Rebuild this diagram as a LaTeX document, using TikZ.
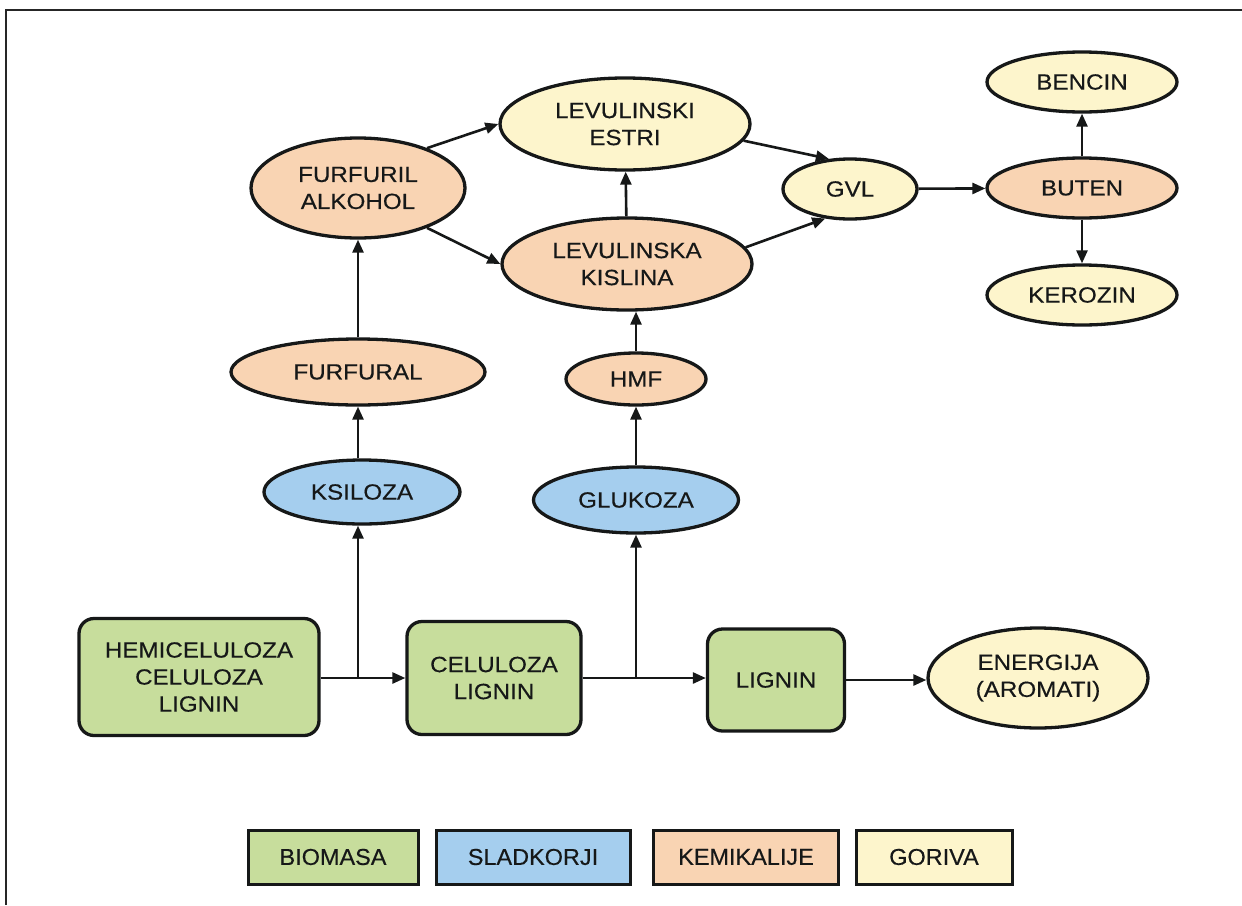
\documentclass[tikz,border=0pt]{standalone}
\usepackage{fontspec}
\setmainfont[FakeStretch=1.1,FakeBold=0.4]{Liberation Sans}
\newfontfamily\legfont[FakeStretch=1.02,FakeBold=0.4]{Liberation Sans}
\usetikzlibrary{shapes.geometric,arrows.meta}
\definecolor{cgreen}{HTML}{C7DD9C}
\definecolor{cblue}{HTML}{A5CEEE}
\definecolor{corange}{HTML}{F9D4B3}
\definecolor{cyellow}{HTML}{FDF5CC}
\definecolor{cline}{HTML}{161818}
\tikzset{
  base/.style={draw=cline, line width=3.3pt, align=center, inner sep=0pt, text=cline,
    font=\fontsize{22}{27}\selectfont},
  ell/.style={base, ellipse},
  boxn/.style={base, rectangle, rounded corners=15pt, fill=cgreen},
  legbox/.style={base, rectangle, minimum width=#1, minimum height=54pt, line width=3pt,
    font=\legfont\fontsize{23}{26}\selectfont},
  arr/.style={draw=cline, line width=2.6pt, -{Triangle[length=13pt,width=11pt]}},
}
\begin{document}
\begin{tikzpicture}[x=1pt,y=-1pt]
\useasboundingbox (0,0) rectangle (1242,905);
\fill[white] (0,0) rectangle (1242,905);
\draw[line width=2.2pt, black!85] (6,905) -- (6,10) -- (1242,10);

% top part
\node[ell, fill=corange, minimum width=214pt, minimum height=100pt] (fa) at (358,188) {FURFURIL\\ALKOHOL};
\node[ell, fill=cyellow, minimum width=250pt, minimum height=92pt] (le) at (625,124) {LEVULINSKI\\ESTRI};
\node[ell, fill=corange, minimum width=250pt, minimum height=92pt] (lk) at (627,264) {LEVULINSKA\\KISLINA};
\node[ell, fill=cyellow, minimum width=134pt, minimum height=60pt] (gvl) at (850,189) {GVL};
\node[ell, fill=corange, minimum width=190pt, minimum height=60pt] (bu) at (1082,188) {BUTEN};
\node[ell, fill=cyellow, minimum width=190pt, minimum height=60pt] (be) at (1082,82) {BENCIN};
\node[ell, fill=cyellow, minimum width=190pt, minimum height=60pt] (ke) at (1082,295) {KEROZIN};

% middle
\node[ell, fill=corange, minimum width=254pt, minimum height=66pt] (ff) at (358,372) {FURFURAL};
\node[ell, fill=corange, minimum width=140pt, minimum height=52pt] (hmf) at (636,379) {HMF};
\node[ell, fill=cblue, minimum width=196pt, minimum height=64pt] (ks) at (362,492) {KSILOZA};
\node[ell, fill=cblue, minimum width=205pt, minimum height=66pt] (gl) at (636,500) {GLUKOZA};

% bottom
\node[boxn, minimum width=240pt, minimum height=117pt] (hc) at (199,677) {HEMICELULOZA\\CELULOZA\\LIGNIN};
\node[boxn, minimum width=174pt, minimum height=113pt] (cl) at (494,678) {CELULOZA\\LIGNIN};
\node[boxn, minimum width=137pt, minimum height=102pt] (lg) at (776,680) {LIGNIN};
\node[ell, fill=cyellow, minimum width=220pt, minimum height=100pt] (en) at (1038,678) {ENERGIJA\\(AROMATI)};

\coordinate (b1) at (358,678);
\coordinate (b2) at (636,678);

% connectors
\draw[arr] (hc.east |- b1) -- (cl.west |- b1);
\draw[arr] (b1) -- (b1 |- ks.south);
\draw[arr] (cl.east |- b2) -- (lg.west |- b2);
\draw[arr] (b2) -- (gl.south);
\draw[arr] (lg.east) -- (en.west |- lg.east);
\draw[arr] (ks.north -| ff) -- (ff.south);
\draw[arr] (ff) -- (fa);
\draw[arr] (gl) -- (hmf);
\draw[arr] (hmf.north) -- (hmf.north |- lk.south);
\draw[arr] (lk) -- (le);
\draw[arr] (fa.30) -- (le.west);
\draw[arr] (fa.-30) -- (lk.west);
\draw[arr] (le.-8) -- (gvl.125);
\draw[arr] (lk.8) -- (gvl.-130);
\draw[arr] (gvl) -- (bu);
\draw[arr] (bu) -- (be);
\draw[arr] (bu) -- (ke);

% legend
\node[legbox=170pt, fill=cgreen] (l1) at (333,857) {BIOMASA};
\node[legbox=194pt, fill=cblue] (l2) at (533,857) {SLADKORJI};
\node[legbox=185pt, fill=corange] (l3) at (746,857) {KEMIKALIJE};
\node[legbox=156pt, fill=cyellow] (l4) at (934,857) {GORIVA};
\end{tikzpicture}
\end{document}
